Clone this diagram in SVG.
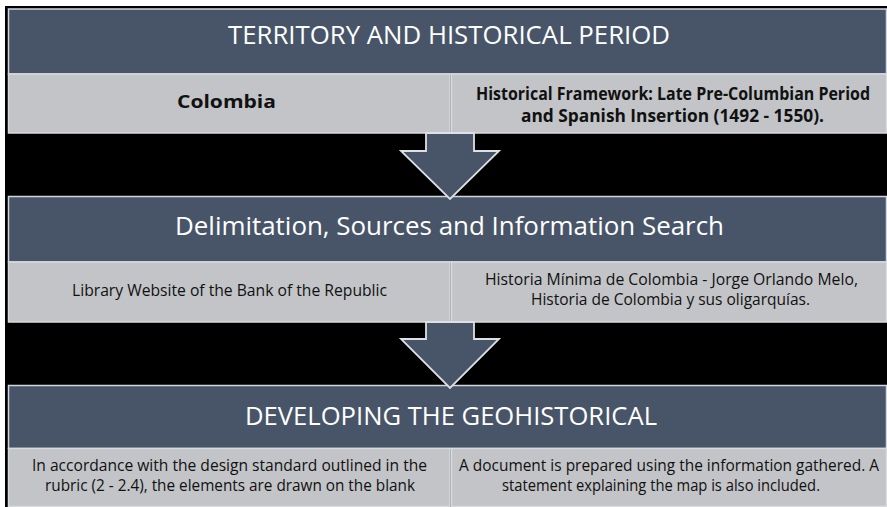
<svg xmlns="http://www.w3.org/2000/svg" width="887" height="507" viewBox="0 0 887 507">
  <style>
    .band { fill: #485569; stroke: #d3d7dc; stroke-width: 1.5; }
    .cell { fill: #c2c4c7; stroke: #d8dadd; stroke-width: 1.5; }
    .arrow { fill: #485569; stroke: #dde0e4; stroke-width: 1.8; stroke-linejoin: miter; }
    .title { font-family: "Open Sans", "Liberation Sans", sans-serif; font-size: 26px; fill: #ffffff; text-anchor: middle; }
    .bold { font-family: "Open Sans", "Liberation Sans", sans-serif; font-size: 17px; font-weight: bold; fill: #111111; text-anchor: middle; }
    .body { font-family: "Open Sans", "Liberation Sans", sans-serif; font-size: 16px; fill: #111111; text-anchor: middle; }
  </style>

  <!-- page and dark frame -->
  <rect x="0" y="0" width="887" height="507" fill="#ffffff"/>
  <rect x="5" y="6" width="882" height="501" fill="#000000"/>

  <!-- stage 1 -->
  <g id="territory">
    <rect class="band" x="8.5" y="9" width="878" height="65"/>
    <text class="title" x="449" y="43.5" textLength="442" lengthAdjust="spacingAndGlyphs">TERRITORY AND HISTORICAL PERIOD</text>
    <rect class="cell" x="8.5" y="74" width="441.5" height="59"/>
    <rect class="cell" x="451.5" y="74" width="435" height="59"/>
    <text class="bold" x="226.5" y="108" textLength="99" lengthAdjust="spacingAndGlyphs">Colombia</text>
    <text class="bold" x="673" y="100" textLength="394" lengthAdjust="spacingAndGlyphs">Historical Framework: Late Pre-Columbian Period</text>
    <text class="bold" x="672.5" y="121.5" textLength="303" lengthAdjust="spacingAndGlyphs">and Spanish Insertion (1492 - 1550).</text>
  </g>

  <!-- stage 2 -->
  <g id="delimitation">
    <rect class="band" x="8.5" y="196.5" width="878" height="65.5"/>
    <text class="title" x="449.5" y="235" textLength="549" lengthAdjust="spacingAndGlyphs">Delimitation, Sources and Information Search</text>
    <rect class="cell" x="8.5" y="262" width="441.5" height="60"/>
    <rect class="cell" x="451.5" y="262" width="435" height="60"/>
    <text class="body" x="229.5" y="296" textLength="315" lengthAdjust="spacingAndGlyphs">Library Website of the Bank of the Republic</text>
    <text class="body" x="671.5" y="285" textLength="373" lengthAdjust="spacingAndGlyphs">Historia Mínima de Colombia - Jorge Orlando Melo,</text>
    <text class="body" x="670.5" y="305" textLength="279" lengthAdjust="spacingAndGlyphs">Historia de Colombia y sus oligarquías.</text>
  </g>

  <!-- stage 3 -->
  <g id="developing">
    <rect class="band" x="8.5" y="385.5" width="878" height="63"/>
    <text class="title" x="451" y="425" textLength="412" lengthAdjust="spacingAndGlyphs">DEVELOPING THE GEOHISTORICAL</text>
    <rect class="cell" x="8.5" y="448.5" width="441.5" height="58" fill="#c6c8cb"/>
    <rect class="cell" x="451.5" y="448.5" width="435" height="58"/>
    <text class="body" x="229.5" y="470.5" textLength="395" lengthAdjust="spacingAndGlyphs">In accordance with the design standard outlined in the</text>
    <text class="body" x="230" y="490.5" textLength="370" lengthAdjust="spacingAndGlyphs">rubric (2 - 2.4), the elements are drawn on the blank</text>
    <text class="body" x="669" y="470.5" textLength="420" lengthAdjust="spacingAndGlyphs">A document is prepared using the information gathered. A</text>
    <text class="body" x="661" y="490.5" textLength="318" lengthAdjust="spacingAndGlyphs">statement explaining the map is also included.</text>
  </g>

  <!-- connectors -->
  <g id="connectors">
    <polygon class="arrow" points="426,133 474,133 474,151 499,151 450,199 401,151 426,151"/>
    <polygon class="arrow" points="426,322 474,322 474,339 499,339 450,388 401,339 426,339"/>
  </g>
</svg>
